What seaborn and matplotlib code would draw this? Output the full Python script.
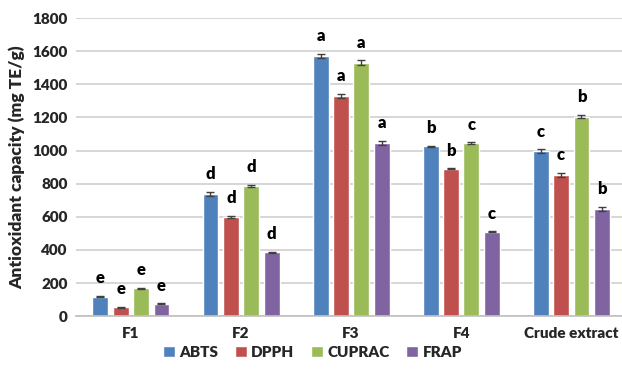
import matplotlib
matplotlib.use("Agg")
import matplotlib.pyplot as plt
import seaborn as sns
import pandas as pd
import numpy as np

# Antioxidant capacity of fractions F1-F4 and the crude extract
categories = ["F1", "F2", "F3", "F4", "Crude extract"]
assays = ["ABTS", "DPPH", "CUPRAC", "FRAP"]

abts = [118, 740, 1570, 1025, 995]
dpph = [55, 600, 1330, 890, 855]
cuprac = [168, 785, 1530, 1045, 1205]
frap = [75, 385, 1045, 510, 650]

abts_err = [4, 12, 12, 3, 12]
dpph_err = [3, 5, 14, 3, 12]
cuprac_err = [4, 6, 15, 5, 10]
frap_err = [3, 5, 12, 3, 12]

abts_sig = ["e", "d", "a", "b", "c"]
dpph_sig = ["e", "d", "a", "b", "c"]
cuprac_sig = ["e", "d", "a", "c", "b"]
frap_sig = ["e", "d", "a", "c", "b"]

palette = ["#4F81BD", "#C0504D", "#9BBB59", "#8064A2"]

values = [abts, dpph, cuprac, frap]
errors = [abts_err, dpph_err, cuprac_err, frap_err]
letters = [abts_sig, dpph_sig, cuprac_sig, frap_sig]

df = pd.DataFrame({
    "Fraction": categories * len(assays),
    "Assay": np.repeat(assays, len(categories)),
    "Value": sum(values, []),
})

sns.set_style("white")
plt.rcParams["font.family"] = ["Lato", "DejaVu Sans"]
plt.rcParams["font.weight"] = "bold"

fig = plt.figure(figsize=(6.22, 3.69), dpi=100)
ax = fig.add_axes([0.122, 0.143, 0.885, 0.808])

sns.barplot(data=df, x="Fraction", y="Value", hue="Assay", order=categories,
            hue_order=assays, palette=palette, errorbar=None, width=0.74,
            gap=0.22, saturation=1, ax=ax, legend=True, zorder=2)

# error bars and significance letters on top of each bar
for i, assay in enumerate(assays):
    container = ax.containers[i]
    for j, bar in enumerate(container.patches):
        xc = bar.get_x() + bar.get_width() / 2
        v = values[i][j]
        e = errors[i][j]
        ax.errorbar(xc, v, yerr=e, fmt="none", ecolor="#404040",
                    elinewidth=1.0, capsize=3, capthick=1.0, zorder=3)
        ax.annotate(letters[i][j], (xc, v + e), xytext=(0, 7),
                    textcoords="offset points", ha="center", va="bottom",
                    fontsize=12, fontweight="heavy", color="black")

ax.set_ylim(0, 1800)
ax.set_yticks(range(0, 1801, 200))
ax.set_xlim(-0.5, len(categories) - 0.5)
ax.yaxis.grid(True, color="#d0d0d0", linewidth=1.2, zorder=0)
ax.set_axisbelow(True)
for s in ["top", "right", "left"]:
    ax.spines[s].set_visible(False)
ax.spines["bottom"].set_color("#bfbfbf")
ax.spines["bottom"].set_linewidth(1.2)
ax.tick_params(axis="both", length=0, labelsize=11, pad=6)
for lab in ax.get_xticklabels() + ax.get_yticklabels():
    lab.set_fontweight("heavy")
ax.tick_params(axis="x", pad=8)
ax.set_xlabel("")
ax.set_ylabel("Antioxidant capacity (mg TE/g)", fontsize=12.5,
              fontweight="heavy", labelpad=5)

ax.legend(loc="center", bbox_to_anchor=(0.43, -0.12), ncol=4,
          frameon=False, fontsize=11, handlelength=0.75, handleheight=0.75,
          handletextpad=0.3, columnspacing=1.1, borderaxespad=0)
for t in ax.get_legend().get_texts():
    t.set_fontweight("heavy")

fig.savefig("out.png", dpi=100)
